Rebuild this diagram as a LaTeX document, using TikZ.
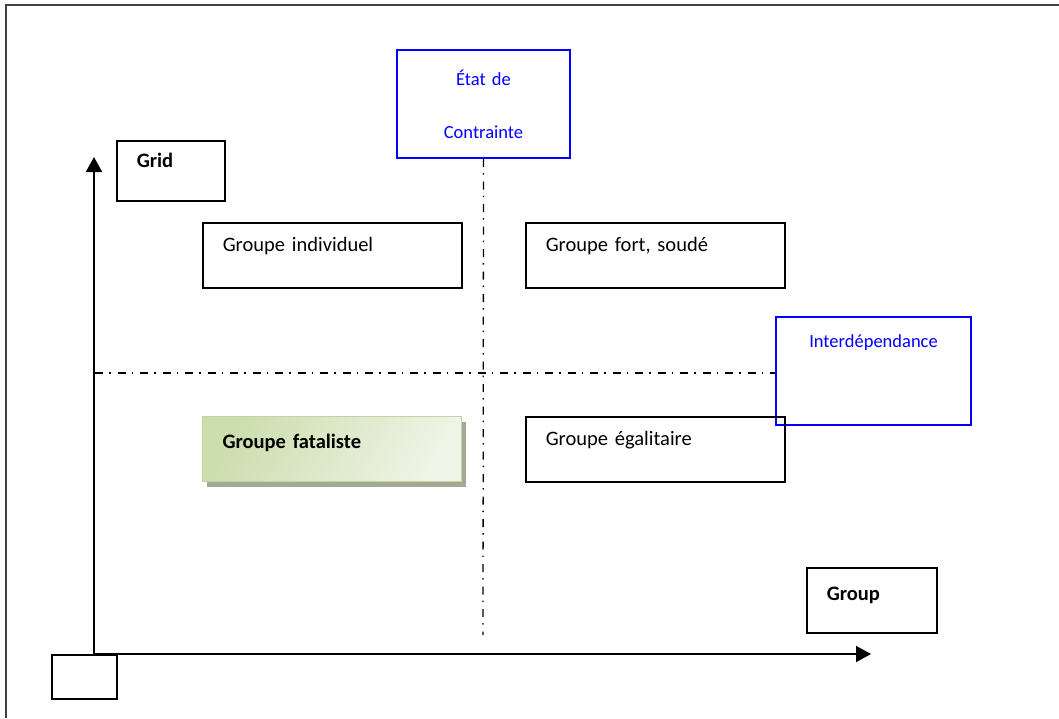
\documentclass[tikz,border=0pt]{standalone}
\usepackage{fontspec}
\setmainfont{Carlito}
\usetikzlibrary{arrows.meta, shadows}
\definecolor{fatdark}{HTML}{CCDDAE}
\definecolor{fatlight}{HTML}{EFF4E6}
\definecolor{fatborder}{HTML}{C2D3A4}
\definecolor{fatshadow}{HTML}{A4A996}
\tikzstyle{cell} = [rectangle, draw=black, line width=1.5pt, anchor=north west, inner xsep=20pt, inner ysep=0pt, align=left, text=black, font=\fontsize{20.5pt}{24pt}\selectfont]
\tikzstyle{tag} = [rectangle, draw=blue, line width=2pt, anchor=north west, inner sep=0pt, align=center, text=blue, font=\fontsize{18.5pt}{22pt}\selectfont]
\tikzstyle{fatal} = [cell, draw=fatborder, line width=1pt, left color=fatdark, right color=fatlight, shading angle=60, drop shadow={shadow xshift=4pt, shadow yshift=-5pt, fill=fatshadow, opacity=1}]
\tikzstyle{axis} = [line width=2pt, -{Triangle[length=15pt, width=16pt]}]
\tikzstyle{dashdot} = [line width=1.3pt, dash pattern=on 8pt off 6pt on 1.5pt off 7pt]

\begin{document}
\begin{tikzpicture}[x=1pt, y=-1pt]
\useasboundingbox (0,0) rectangle (1059,718);
\draw [line width=2pt, black!75] (6,718) -- (6,5) -- (1059,5);

\node (etat) [tag, text width=173pt, minimum height=108pt, font=\fontsize{18.5pt}{53pt}\selectfont] at (396,49) {État de\\Contrainte};
\node (inter) [tag, text width=195pt, text height=30pt, text depth=78pt] at (775,316) {Interdépendance};

\node (grid) [cell, text width=68pt, text height=27pt, text depth=33pt, font=\fontsize{20.5pt}{24pt}\selectfont\bfseries] at (116,140) {Grid};
\node (indiv) [cell, text width=219pt, text height=29pt, text depth=36pt] at (202,222) {Groupe individuel};
\node (fort) [cell, text width=219pt, text height=29pt, text depth=36pt] at (525,222) {Groupe fort, soudé};
\node (fatal) [fatal, text width=219pt, text height=32pt, text depth=33pt, font=\fontsize{20.5pt}{24pt}\selectfont\bfseries] at (202,416) {Groupe fataliste};
\node (egal) [cell, text width=219pt, text height=29pt, text depth=36pt] at (525,416) {Groupe égalitaire};
\node (group) [cell, text width=90pt, text height=33pt, text depth=32pt, font=\fontsize{20.5pt}{24pt}\selectfont\bfseries] at (806,567) {Group};
\node (origin) [cell, minimum width=65pt, minimum height=44pt, inner sep=0pt] at (51,654) {};

\coordinate (O) at (94,654);
\coordinate (ytip) at (94,157);
\coordinate (xtip) at (871,654);
\coordinate (vend) at (483,635);
\coordinate (hstart) at (95,373);

\draw [dashdot] (etat.south) -- (vend);
\draw [dashdot] (hstart) -- (hstart -| inter.west);
\draw [axis] (O) -- (ytip);
\draw [axis] (O) -- (xtip);

\end{tikzpicture}
\end{document}
